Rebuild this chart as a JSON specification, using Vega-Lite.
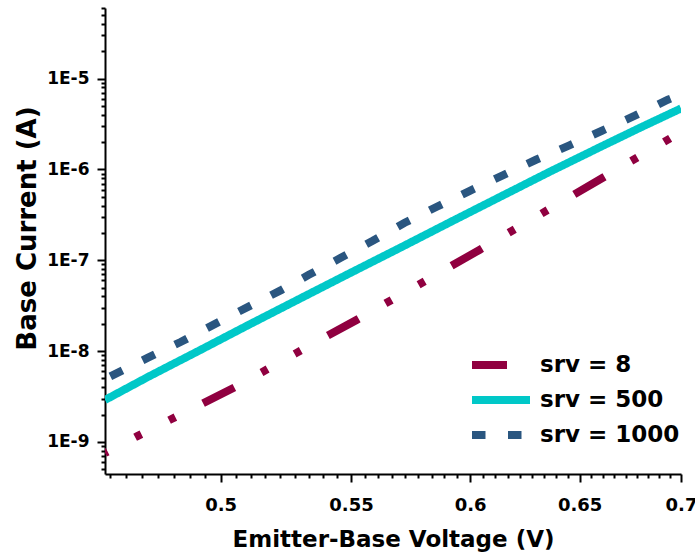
{
  "$schema": "https://vega.github.io/schema/vega-lite/v6.json",
  "width": 576,
  "height": 466,
  "autosize": {"type": "none"},
  "padding": {"left": 105, "top": 8, "right": 14, "bottom": 80},
  "background": "white",
  "config": {
    "view": {"stroke": null},
    "font": "DejaVu Sans",
    "axis": {
      "labelFont": "DejaVu Sans", "labelFontWeight": "bold", "labelFontSize": 17, "labelColor": "black",
      "titleFont": "DejaVu Sans", "titleFontWeight": "bold", "titleFontSize": 23, "titleColor": "black",
      "domainColor": "black", "domainWidth": 2, "tickColor": "black", "tickWidth": 2, "grid": false,
      "labelOverlap": false
    },
    "legend": {
      "orient": "none", "legendX": 363, "legendY": 345, "padding": 0,
      "symbolType": "stroke", "symbolSize": 3364, "symbolStrokeWidth": 8,
      "labelFont": "DejaVu Sans", "labelFontSize": 23, "labelFontWeight": "bold", "labelColor": "black",
      "labelOffset": 6, "rowPadding": 11, "clipHeight": 24
    }
  },
  "data": {
    "values": [
      {"srv": "srv = 8", "V": 0.4595, "I": 7.56e-10},
      {"srv": "srv = 8", "V": 0.4705, "I": 1.16e-9},
      {"srv": "srv = 8", "V": 0.4824, "I": 1.79e-9},
      {"srv": "srv = 8", "V": 0.4931, "I": 2.62e-9},
      {"srv": "srv = 8", "V": 0.5051, "I": 3.99e-9},
      {"srv": "srv = 8", "V": 0.5152, "I": 5.83e-9},
      {"srv": "srv = 8", "V": 0.5282, "I": 9.45e-9},
      {"srv": "srv = 8", "V": 0.5395, "I": 1.42e-8},
      {"srv": "srv = 8", "V": 0.5523, "I": 2.21e-8},
      {"srv": "srv = 8", "V": 0.5641, "I": 3.36e-8},
      {"srv": "srv = 8", "V": 0.5775, "I": 5.33e-8},
      {"srv": "srv = 8", "V": 0.5903, "I": 8.23e-8},
      {"srv": "srv = 8", "V": 0.6043, "I": 1.31e-7},
      {"srv": "srv = 8", "V": 0.6168, "I": 1.99e-7},
      {"srv": "srv = 8", "V": 0.6314, "I": 3.19e-7},
      {"srv": "srv = 8", "V": 0.6454, "I": 4.98e-7},
      {"srv": "srv = 8", "V": 0.6607, "I": 8.01e-7},
      {"srv": "srv = 8", "V": 0.6739, "I": 1.2e-6},
      {"srv": "srv = 8", "V": 0.6898, "I": 1.92e-6},
      {"srv": "srv = 8", "V": 0.7, "I": 2.59e-6},
      {"srv": "srv = 500", "V": 0.4595, "I": 2.9e-9},
      {"srv": "srv = 500", "V": 0.4747, "I": 5.31e-9},
      {"srv": "srv = 500", "V": 0.4924, "I": 1.02e-8},
      {"srv": "srv = 500", "V": 0.5107, "I": 1.97e-8},
      {"srv": "srv = 500", "V": 0.5298, "I": 3.78e-8},
      {"srv": "srv = 500", "V": 0.5495, "I": 7.21e-8},
      {"srv": "srv = 500", "V": 0.57, "I": 1.37e-7},
      {"srv": "srv = 500", "V": 0.5912, "I": 2.62e-7},
      {"srv": "srv = 500", "V": 0.6132, "I": 4.98e-7},
      {"srv": "srv = 500", "V": 0.636, "I": 9.45e-7},
      {"srv": "srv = 500", "V": 0.6597, "I": 1.76e-6},
      {"srv": "srv = 500", "V": 0.6793, "I": 2.88e-6},
      {"srv": "srv = 500", "V": 0.7, "I": 4.7e-6},
      {"srv": "srv = 1000", "V": 0.4595, "I": 4.94e-9},
      {"srv": "srv = 1000", "V": 0.474, "I": 8.43e-9},
      {"srv": "srv = 1000", "V": 0.4856, "I": 1.26e-8},
      {"srv": "srv = 1000", "V": 0.5033, "I": 2.42e-8},
      {"srv": "srv = 1000", "V": 0.5228, "I": 4.73e-8},
      {"srv": "srv = 1000", "V": 0.5333, "I": 6.92e-8},
      {"srv": "srv = 1000", "V": 0.5459, "I": 1.065e-7},
      {"srv": "srv = 1000", "V": 0.5588, "I": 1.64e-7},
      {"srv": "srv = 1000", "V": 0.572, "I": 2.59e-7},
      {"srv": "srv = 1000", "V": 0.5856, "I": 3.89e-7},
      {"srv": "srv = 1000", "V": 0.5999, "I": 5.83e-7},
      {"srv": "srv = 1000", "V": 0.6145, "I": 8.6e-7},
      {"srv": "srv = 1000", "V": 0.6296, "I": 1.28e-6},
      {"srv": "srv = 1000", "V": 0.6449, "I": 1.83e-6},
      {"srv": "srv = 1000", "V": 0.6607, "I": 2.67e-6},
      {"srv": "srv = 1000", "V": 0.6768, "I": 3.91e-6},
      {"srv": "srv = 1000", "V": 0.6933, "I": 5.87e-6},
      {"srv": "srv = 1000", "V": 0.7, "I": 6.7e-6}
    ]
  },
  "encoding": {
    "x": {
      "field": "V", "type": "quantitative",
      "scale": {"type": "log", "domain": [0.4595, 0.7], "nice": false},
      "axis": {
        "title": "Emitter-Base Voltage (V)",
        "values": [0.46111, 0.46667, 0.47222, 0.47778, 0.48333, 0.48889, 0.49444, 0.5, 0.50556, 0.51111, 0.51667, 0.52222, 0.52778, 0.53333, 0.53889, 0.54444, 0.55, 0.55556, 0.56111, 0.56667, 0.57222, 0.57778, 0.58333, 0.58889, 0.59444, 0.6, 0.60556, 0.61111, 0.61667, 0.62222, 0.62778, 0.63333, 0.63889, 0.64444, 0.65, 0.65556, 0.66111, 0.66667, 0.67222, 0.67778, 0.68333, 0.68889, 0.69444, 0.7],
        "labelExpr": "abs(datum.value*20 - round(datum.value*20)) < 0.001 ? format(datum.value, '~g') : ''",
        "tickSize": {"condition": {"test": "abs(datum.value*20 - round(datum.value*20)) < 0.001", "value": 8}, "value": 4},
        "labelFontSize": 18, "labelPadding": 14, "titlePadding": 14, "titleFontSize": 23, "labelFlush": false, "labelBound": false
      }
    },
    "y": {
      "field": "I", "type": "quantitative",
      "scale": {"type": "log", "domain": [4.44e-10, 6e-5], "nice": false},
      "axis": {
        "title": "Base Current (A)",
        "values": [5e-10, 6e-10, 7e-10, 8e-10, 9e-10, 1e-9, 2e-9, 3e-9, 4e-9, 5e-9, 6e-9, 7e-9, 8e-9, 9e-9, 1e-8, 2e-8, 3e-8, 4e-8, 5e-8, 6e-8, 7e-8, 8e-8, 9e-8, 1e-7, 2e-7, 3e-7, 4e-7, 5e-7, 6e-7, 7e-7, 8e-7, 9e-7, 1e-6, 2e-6, 3e-6, 4e-6, 5e-6, 6e-6, 7e-6, 8e-6, 9e-6, 1e-5, 2e-5, 3e-5, 4e-5, 5e-5, 6e-5],
        "labelExpr": "abs(log(datum.value)/LN10 - round(log(datum.value)/LN10)) < 0.001 ? '1E' + round(log(datum.value)/LN10) : ''",
        "tickSize": {"condition": {"test": "abs(log(datum.value)/LN10 - round(log(datum.value)/LN10)) < 0.001", "value": 8}, "value": 4},
        "labelPadding": 8, "titlePadding": 6, "titleFontSize": 26, "titleY": 220
      }
    },
    "color": {
      "field": "srv", "type": "nominal", "title": null,
      "scale": {"domain": ["srv = 8", "srv = 500", "srv = 1000"], "range": ["#900040", "#00C8C8", "#2A5680"]}
    },
    "strokeDash": {
      "field": "srv", "type": "nominal", "title": null,
      "scale": {"domain": ["srv = 8", "srv = 500", "srv = 1000"], "range": [[35, 31, 7, 31, 7, 31], [1, 0], [13.5, 22.5]]}
    }
  },
  "layer": [
    {
      "transform": [{"filter": "datum.srv === 'srv = 8'"}],
      "mark": {"type": "line", "strokeWidth": 8, "strokeCap": "butt", "strokeDashOffset": 32, "clip": true}
    },
    {
      "transform": [{"filter": "datum.srv === 'srv = 500'"}],
      "mark": {"type": "line", "strokeWidth": 8, "strokeCap": "butt", "clip": true}
    },
    {
      "transform": [{"filter": "datum.srv === 'srv = 1000'"}],
      "mark": {"type": "line", "strokeWidth": 8, "strokeCap": "butt", "strokeDashOffset": 30, "clip": true}
    }
  ]
}
